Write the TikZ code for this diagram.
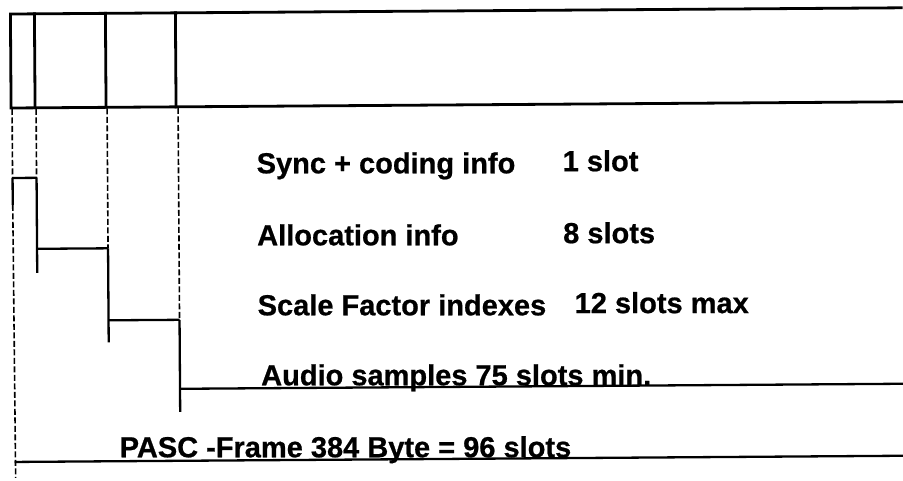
\documentclass[tikz,border=0pt]{standalone}
\usepackage{fontspec}
\setmainfont{Liberation Sans}[BoldFeatures={FakeBold=0.7}]
\begin{document}
\begin{tikzpicture}[x=1pt,y=-1pt,
  boxline/.style={line width=2.8pt, line cap=rect},
  guide/.style={line width=1.6pt, dash pattern=on 6pt off 2.5pt},
  bracket/.style={line width=2.3pt},
  lbl/.style={font=\fontsize{29}{32}\selectfont\bfseries, anchor=base west, inner sep=0pt}]
\useasboundingbox (0,0) rectangle (903,480);
\begin{scope}[rotate around={0.4:(12,240)}]
  % top box
  \coordinate (tl) at (12,14);  \coordinate (tr) at (903,14);
  \coordinate (bl) at (12,108); \coordinate (br) at (903,108);
  \coordinate (t1) at (36,14);  \coordinate (b1) at (36,108);
  \coordinate (t2) at (107,14); \coordinate (b2) at (107,108);
  \coordinate (t3) at (177,14); \coordinate (b3) at (177,108);
  \draw[boxline] (tr) -- (tl) -- (bl) -- (br);
  \draw[boxline] (t1) -- (b1);
  \draw[boxline] (t2) -- (b2);
  \draw[boxline] (t3) -- (b3);
  % guide lines
  \coordinate (g0) at (13,109);  \coordinate (h0) at (13,178);
  \coordinate (k0) at (13,205);  \coordinate (e0) at (14,478);
  \coordinate (g1) at (37,109);  \coordinate (h1) at (37,178);  \coordinate (e1) at (37,273);
  \coordinate (g2) at (108,109); \coordinate (h2) at (108,249); \coordinate (e2) at (108,343);
  \coordinate (g3) at (179,109); \coordinate (h3) at (179,321); \coordinate (e3) at (179,413);
  \coordinate (a1) at (37,249);  \coordinate (a2) at (108,321);
  \coordinate (au) at (179,390); \coordinate (aur) at (903,390);
  \coordinate (ps) at (13,462);  \coordinate (psr) at (903,462);
  \draw[guide] (g0) -- (h0);
  \draw[bracket] (h0) -- (k0);
  \draw[guide] (k0) -- (e0);
  \draw[guide] (g1) -- (h1);
  \draw[bracket] (h1) -- (e1);
  \draw[guide] (g2) -- (h2);
  \draw[bracket] (h2) -- (e2);
  \draw[guide] (g3) -- (h3);
  \draw[bracket] (h3) -- (e3);
  % brackets
  \draw[bracket] (h0) -- (h1);
  \draw[bracket] (a1) -- (h2);
  \draw[bracket] (a2) -- (h3);
  \draw[bracket] (au) -- (aur);
  \draw[bracket] (ps) -- (psr);
  % labels
  \node[lbl] (sync)   at (257,175) {Sync + coding info};
  \node[lbl] (syncn)  at (563,175) {1 slot};
  \node[lbl] (alloc)  at (257,247) {Allocation info};
  \node[lbl] (allocn) at (563,247) {8 slots};
  \node[lbl] (scale)  at (257,317) {Scale Factor indexes};
  \node[lbl] (scalen) at (574,317) {12 slots max};
  \node[lbl] (audio)  at (260,387) {Audio samples 75 slots min.};
  \node[lbl] (pasc)   at (118,458) {PASC -Frame 384 Byte = 96 slots};
\end{scope}
\end{tikzpicture}
\end{document}
